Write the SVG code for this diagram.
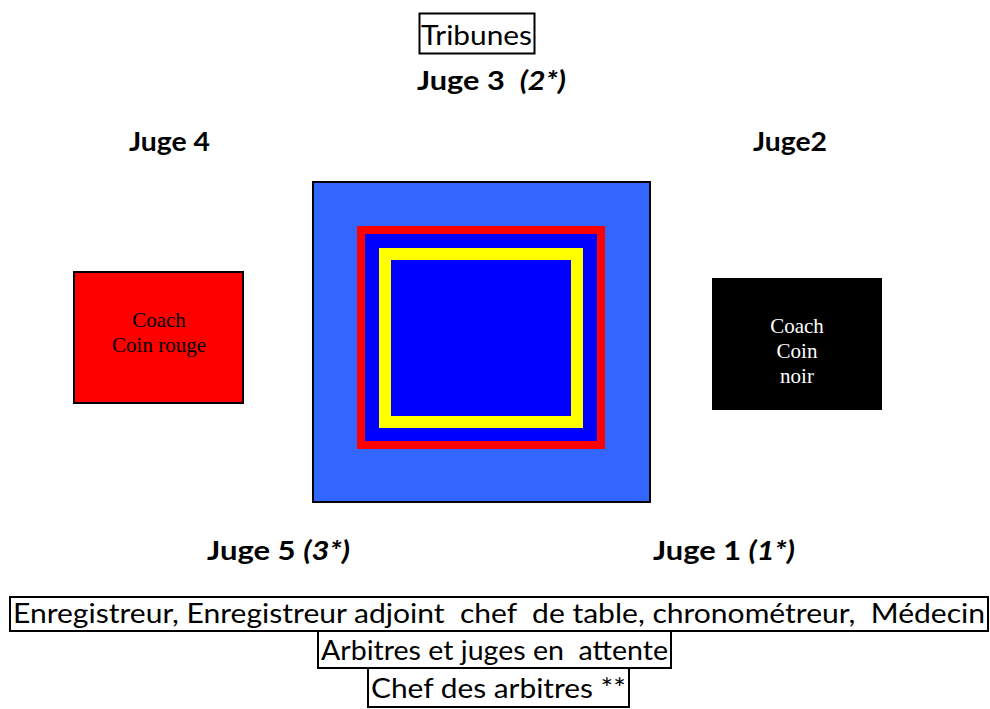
<svg xmlns="http://www.w3.org/2000/svg" width="990" height="709" viewBox="0 0 990 709">
  <style>
    .lbl { font-family: Lato, "Open Sans", "Liberation Sans", sans-serif; fill: #000; }
    .judge { font-size: 27px; font-weight: bold; }
    .it { font-style: italic; }
    .box { fill: #fff; stroke: #000; stroke-width: 2; }
    .coach { font-family: "Liberation Serif", "DejaVu Serif", serif; font-size: 21px; text-anchor: middle; }
    .plain { font-size: 26px; }
  </style>
  <rect width="990" height="709" fill="#fff"/>

  <!-- Stands -->
  <g id="tribunes">
    <rect class="box" x="419.500" y="13.500" width="115" height="40"/>
    <text class="lbl plain" x="421" y="45" textLength="111" lengthAdjust="spacingAndGlyphs">Tribunes</text>
  </g>

  <!-- Judges -->
  <g id="juge3">
    <text class="lbl judge" x="417" y="90" textLength="149" lengthAdjust="spacingAndGlyphs" xml:space="preserve">Juge 3  <tspan class="it">(2*)</tspan></text>
  </g>
  <g id="juge4">
    <text class="lbl judge" x="129" y="151" textLength="81" lengthAdjust="spacingAndGlyphs">Juge 4</text>
  </g>
  <g id="juge2">
    <text class="lbl judge" x="753" y="151" textLength="74" lengthAdjust="spacingAndGlyphs">Juge2</text>
  </g>
  <g id="juge5">
    <text class="lbl judge" x="207" y="560" textLength="143" lengthAdjust="spacingAndGlyphs">Juge 5 <tspan class="it">(3*)</tspan></text>
  </g>
  <g id="juge1">
    <text class="lbl judge" x="653" y="560" textLength="142" lengthAdjust="spacingAndGlyphs">Juge 1 <tspan class="it">(1*)</tspan></text>
  </g>

  <!-- Competition area -->
  <g id="tapis">
    <rect x="313" y="182" width="337" height="320" fill="#3366ff" stroke="#000" stroke-width="2"/>
    <rect x="361" y="230" width="240" height="215" fill="#0000ff" stroke="#ff0000" stroke-width="8"/>
    <rect x="385" y="254" width="192" height="168" fill="#0000ff" stroke="#ffff00" stroke-width="12"/>
  </g>

  <!-- Coaches -->
  <g id="coach-rouge">
    <rect x="74" y="272" width="169" height="131" fill="#ff0000" stroke="#000" stroke-width="2"/>
    <text class="coach" x="159" y="327">Coach</text>
    <text class="coach" x="159" y="352">Coin rouge</text>
  </g>
  <g id="coach-noir">
    <rect x="712" y="278" width="170" height="132" fill="#000"/>
    <text class="coach" x="797" y="333" fill="#fff">Coach</text>
    <text class="coach" x="797" y="358" fill="#fff">Coin</text>
    <text class="coach" x="797" y="383" fill="#fff">noir</text>
  </g>

  <!-- Officials' table -->
  <g id="table">
    <rect class="box" x="10" y="597" width="978" height="34"/>
    <text class="lbl plain" x="13" y="623" textLength="972" lengthAdjust="spacingAndGlyphs" xml:space="preserve">Enregistreur, Enregistreur adjoint  chef  de table, chronométreur,  Médecin</text>
  </g>
  <g id="attente">
    <rect class="box" x="318" y="631" width="353" height="37"/>
    <text class="lbl plain" x="321" y="660" textLength="347" lengthAdjust="spacingAndGlyphs" xml:space="preserve">Arbitres et juges en  attente</text>
  </g>
  <g id="chef">
    <rect class="box" x="368" y="668" width="261" height="39"/>
    <text class="lbl plain" x="371" y="698" textLength="255" lengthAdjust="spacingAndGlyphs">Chef des arbitres **</text>
  </g>
</svg>
